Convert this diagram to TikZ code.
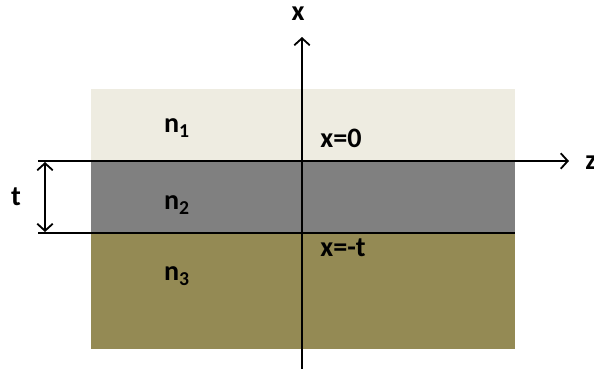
\documentclass[tikz,border=0pt]{standalone}
\usepackage{fontspec}
\setmainfont{Carlito}
\usetikzlibrary{positioning, arrows.meta}
\definecolor{layerone}{HTML}{EEECE1}
\definecolor{layertwo}{HTML}{808080}
\definecolor{layerthree}{HTML}{948A54}
\tikzset{lbl/.style={font=\bfseries\fontsize{20}{24}\selectfont, inner sep=0pt},
         axis/.style={draw, line width=1.3pt},
         barb/.style={-{Straight Barb[length=5pt, width=11pt]}},
         twobarb/.style={{Straight Barb[length=5pt, width=11pt]}-{Straight Barb[length=5pt, width=11pt]}}}

\begin{document}
\begin{tikzpicture}[x=0.025cm, y=-0.025cm]
\useasboundingbox (0,0) rectangle (594,369);

% layers
\fill[layerone] (91,89) rectangle (515,161);
\fill[layertwo] (91,161) rectangle (515,233);
\fill[layerthree] (91,233) rectangle (515,349);

\coordinate (zstart) at (38,161);
\coordinate (zend) at (569,161);
\coordinate (bstart) at (38,233);
\coordinate (bend) at (515,233);
\coordinate (xstart) at (302,369);
\coordinate (xend) at (302,37);
\coordinate (ttop) at (45,162);
\coordinate (tbot) at (45,232);

\draw[axis, barb] (zstart) -- (zend);
\draw[axis] (bstart) -- (bend);
\draw[axis, barb] (xstart) -- (xend);
\draw[axis, twobarb] (ttop) -- (tbot);

\node[lbl] (xlab) at (298,14) {x};
\node[lbl, anchor=west] (zlab) at (585,163) {z};
\node[lbl] (tlab) at (16,197) {t};
\node[lbl] (n1) at (177,128) {n\textsubscript{1}};
\node[lbl] (n2) at (177,205) {n\textsubscript{2}};
\node[lbl] (n3) at (177,276) {n\textsubscript{3}};
\node[lbl] (top) at (341,138) {x=0};
\node[lbl] (bot) at (343,248) {x=-t};
\end{tikzpicture}
\end{document}
